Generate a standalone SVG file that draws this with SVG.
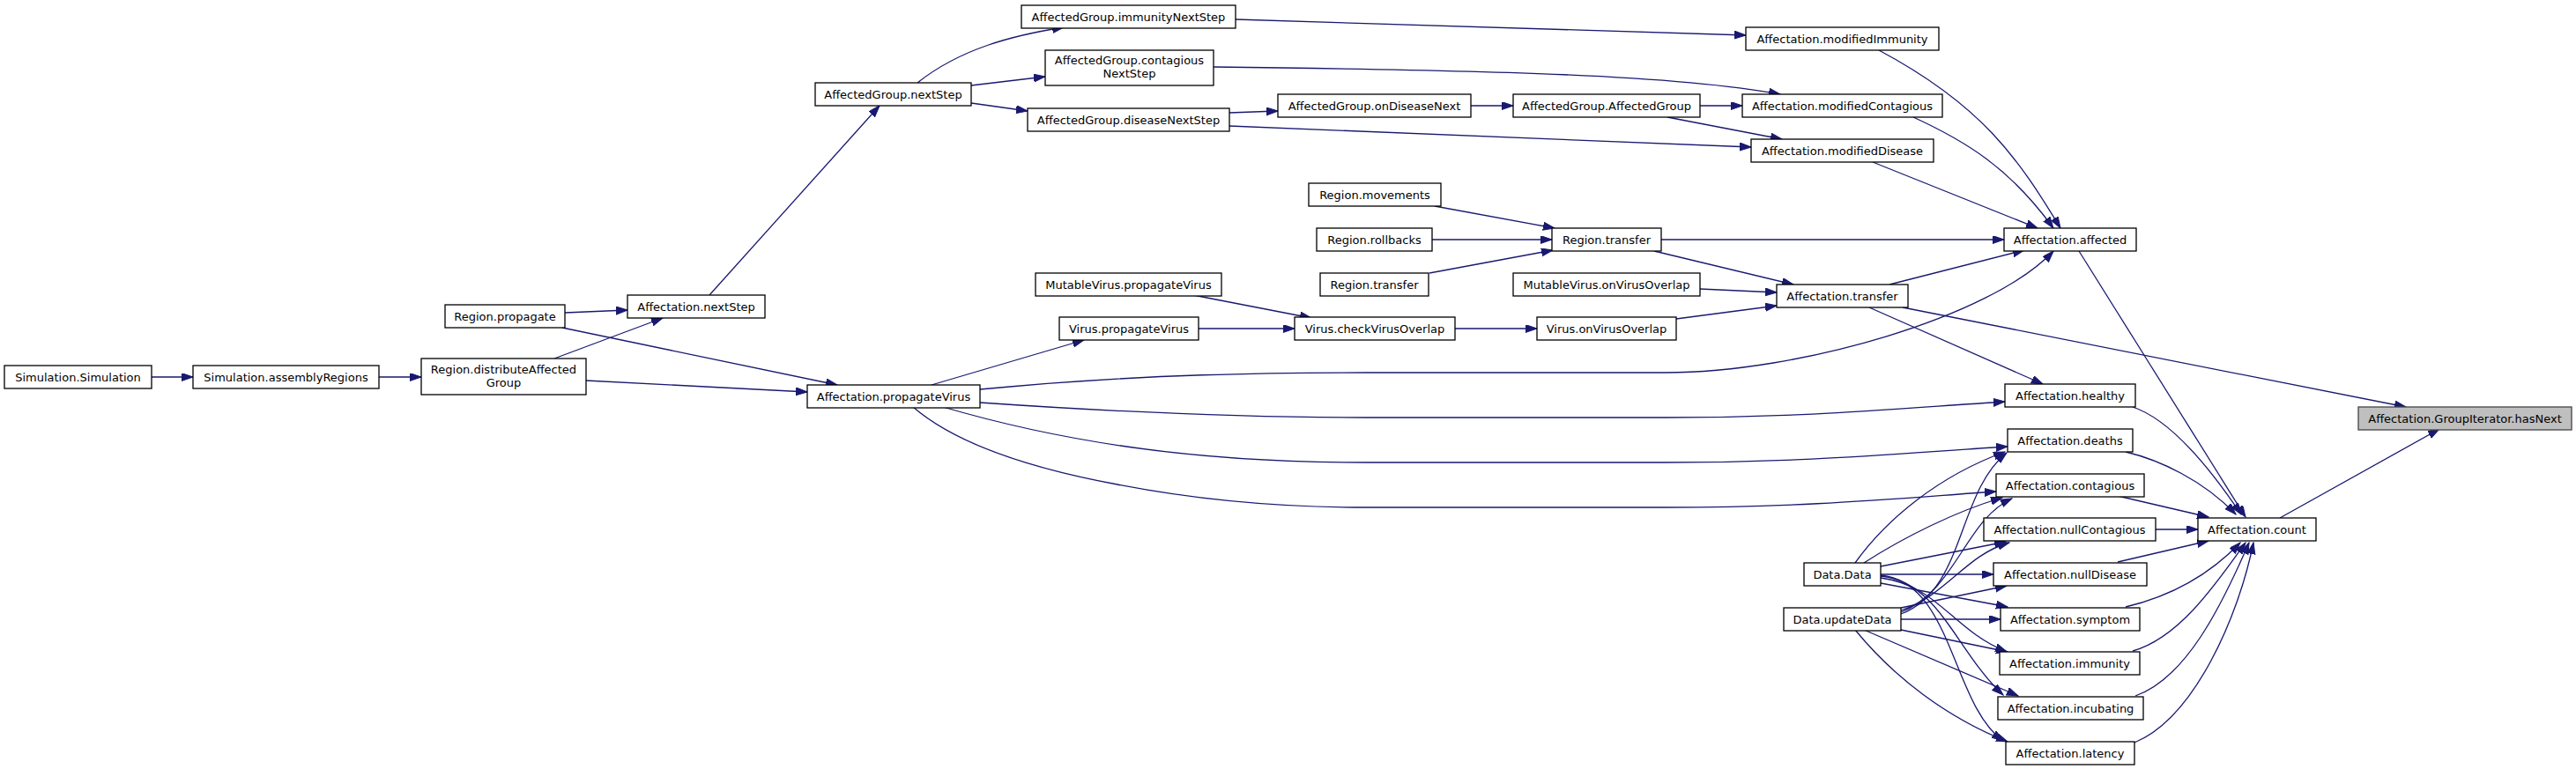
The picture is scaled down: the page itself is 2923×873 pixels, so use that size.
<svg xmlns="http://www.w3.org/2000/svg" width="2923" height="873" viewBox="0 0 2923 873">
<defs>
<marker id="ah" markerUnits="userSpaceOnUse" markerWidth="14" markerHeight="10" refX="13" refY="4.5" orient="auto">
<path d="M0,0 L13,4.5 L0,9 z" fill="#191970" stroke="#191970" stroke-width="1"/>
</marker>
</defs>
<style>
.n rect{fill:#ffffff;stroke:#000000;stroke-width:1.3}
.n.root rect{fill:#bfbfbf;stroke:#444444}
.n text{font-family:"DejaVu Sans",sans-serif;font-size:13px;fill:#000000;text-anchor:middle}
#edges path{fill:none;stroke:#191970;stroke-width:1.3;marker-end:url(#ah)}
</style>
<rect width="2923" height="873" fill="#ffffff"/>
<g id="edges">
<path d="M172,428 L219,428"/>
<path d="M430,428 L478,428"/>
<path d="M629,407 L752,361"/>
<path d="M665,432 L916,445"/>
<path d="M641,355 L712,352"/>
<path d="M638,372 L950,437"/>
<path d="M805,335 L998,120"/>
<path d="M1041,94 C1090,55 1150,40 1207,31"/>
<path d="M1102,97 L1186,87"/>
<path d="M1102,117 L1166,126"/>
<path d="M1402,22 L1981,40"/>
<path d="M1377,76 C1700,80 1900,85 2020,107"/>
<path d="M1395,128 L1450,126"/>
<path d="M1395,143 L1987,167"/>
<path d="M1669,120 L1717,120"/>
<path d="M1929,120 L1977,120"/>
<path d="M1892,133 L2022,158"/>
<path d="M2132,57 C2250,120 2290,180 2338,259"/>
<path d="M2171,133 C2230,160 2280,190 2330,259"/>
<path d="M2125,184 L2312,259"/>
<path d="M1885,272 L2274,272"/>
<path d="M1628,234 L1764,259"/>
<path d="M1625,272 L1761,272"/>
<path d="M1622,310 L1762,284"/>
<path d="M1877,285 L2035,323"/>
<path d="M2144,323 L2297,284"/>
<path d="M1929,328 L2016,332"/>
<path d="M1902,362 L2016,347"/>
<path d="M2159,349 L2730,462"/>
<path d="M2121,349 L2318,436"/>
<path d="M2359,285 L2548,587"/>
<path d="M1354,335 L1488,361"/>
<path d="M1360,373 L1469,373"/>
<path d="M1651,373 L1744,373"/>
<path d="M1057,437 L1230,386"/>
<path d="M1112,442 C1300,424 1450,423 1550,423 L1890,423 C2040,423 2260,360 2330,285"/>
<path d="M1112,457 C1300,470 1450,474 1550,474 L1890,474 C2050,474 2150,464 2275,456"/>
<path d="M1070,462 C1200,500 1350,525 1550,525 L1890,525 C2050,525 2150,515 2278,507"/>
<path d="M1036,462 C1080,500 1160,530 1268,550 C1350,566 1450,576 1550,576 L1890,576 C2050,576 2150,566 2265,558"/>
<path d="M2420,462 C2450,472 2490,505 2543,584"/>
<path d="M2412,513 C2450,522 2500,545 2537,584"/>
<path d="M2403,563 L2506,587"/>
<path d="M2446,601 L2494,601"/>
<path d="M2403,638 L2506,614"/>
<path d="M2412,689 C2450,680 2500,660 2542,616"/>
<path d="M2420,739 C2470,725 2510,670 2548,616"/>
<path d="M2423,790 C2480,770 2520,690 2552,616"/>
<path d="M2422,843 C2490,815 2540,700 2557,616"/>
<path d="M2587,588 L2768,487"/>
<path d="M2105,639 C2140,590 2200,540 2275,513"/>
<path d="M2115,639 C2160,610 2220,580 2272,565"/>
<path d="M2134,643 L2276,615"/>
<path d="M2134,652 L2262,652"/>
<path d="M2134,662 L2278,689"/>
<path d="M2134,656 C2200,665 2215,715 2277,740"/>
<path d="M2134,654 C2200,660 2220,740 2273,789"/>
<path d="M2134,653 C2215,660 2215,800 2273,841"/>
<path d="M2157,697 C2230,670 2220,560 2277,514"/>
<path d="M2157,695 C2220,670 2230,590 2283,566"/>
<path d="M2157,693 C2210,675 2230,630 2280,616"/>
<path d="M2157,690 L2277,665"/>
<path d="M2157,703 L2270,703"/>
<path d="M2157,715 L2278,740"/>
<path d="M2115,715 L2290,790"/>
<path d="M2105,715 C2150,770 2210,815 2278,842"/>
</g>
<g id="n1" class="n"><rect x="5" y="415" width="167" height="26"/><text x="88.5" y="432.5">Simulation.Simulation</text></g>
<g id="n2" class="n"><rect x="219" y="415" width="211" height="26"/><text x="324.5" y="432.5">Simulation.assemblyRegions</text></g>
<g id="n3" class="n"><rect x="478" y="407" width="187" height="41"/><text x="571.5" y="424">Region.distributeAffected</text><text x="571.5" y="439">Group</text></g>
<g id="n4" class="n"><rect x="505" y="346" width="136" height="26"/><text x="573" y="363.5">Region.propagate</text></g>
<g id="n5" class="n"><rect x="712" y="335" width="156" height="26"/><text x="790" y="352.5">Affectation.nextStep</text></g>
<g id="n6" class="n"><rect x="925" y="94" width="177" height="26"/><text x="1013.5" y="111.5">AffectedGroup.nextStep</text></g>
<g id="n7" class="n"><rect x="916" y="437" width="196" height="26"/><text x="1014" y="454.5">Affectation.propagateVirus</text></g>
<g id="n8" class="n"><rect x="1159" y="6" width="243" height="26"/><text x="1280.5" y="23.5">AffectedGroup.immunityNextStep</text></g>
<g id="n9" class="n"><rect x="1186" y="57" width="191" height="40"/><text x="1281.5" y="73">AffectedGroup.contagious</text><text x="1281.5" y="88">NextStep</text></g>
<g id="n10" class="n"><rect x="1166" y="123" width="229" height="26"/><text x="1280.5" y="140.5">AffectedGroup.diseaseNextStep</text></g>
<g id="n11" class="n"><rect x="1450" y="107" width="219" height="26"/><text x="1559.5" y="124.5">AffectedGroup.onDiseaseNext</text></g>
<g id="n12" class="n"><rect x="1717" y="107" width="212" height="26"/><text x="1823" y="124.5">AffectedGroup.AffectedGroup</text></g>
<g id="n13" class="n"><rect x="1981" y="31" width="219" height="26"/><text x="2090.5" y="48.5">Affectation.modifiedImmunity</text></g>
<g id="n14" class="n"><rect x="1977" y="107" width="227" height="26"/><text x="2090.5" y="124.5">Affectation.modifiedContagious</text></g>
<g id="n15" class="n"><rect x="1987" y="158" width="207" height="26"/><text x="2090.5" y="175.5">Affectation.modifiedDisease</text></g>
<g id="n16" class="n"><rect x="1485" y="208" width="150" height="26"/><text x="1560" y="225.5">Region.movements</text></g>
<g id="n17" class="n"><rect x="1494" y="259" width="131" height="26"/><text x="1559.5" y="276.5">Region.rollbacks</text></g>
<g id="n18" class="n"><rect x="1498" y="310" width="123" height="26"/><text x="1559.5" y="327.5">Region.transfer</text></g>
<g id="n19" class="n"><rect x="1761" y="259" width="124" height="26"/><text x="1823" y="276.5">Region.transfer</text></g>
<g id="n20" class="n"><rect x="1175" y="310" width="211" height="26"/><text x="1280.5" y="327.5">MutableVirus.propagateVirus</text></g>
<g id="n21" class="n"><rect x="1717" y="310" width="212" height="26"/><text x="1823" y="327.5">MutableVirus.onVirusOverlap</text></g>
<g id="n22" class="n"><rect x="1202" y="360" width="158" height="26"/><text x="1281" y="377.5">Virus.propagateVirus</text></g>
<g id="n23" class="n"><rect x="1469" y="360" width="182" height="26"/><text x="1560" y="377.5">Virus.checkVirusOverlap</text></g>
<g id="n24" class="n"><rect x="1744" y="360" width="158" height="26"/><text x="1823" y="377.5">Virus.onVirusOverlap</text></g>
<g id="n25" class="n"><rect x="2274" y="259" width="150" height="26"/><text x="2349" y="276.5">Affectation.affected</text></g>
<g id="n26" class="n"><rect x="2016" y="323" width="149" height="26"/><text x="2090.5" y="340.5">Affectation.transfer</text></g>
<g id="n27" class="n"><rect x="2275" y="436" width="148" height="26"/><text x="2349" y="453.5">Affectation.healthy</text></g>
<g id="n28" class="n root"><rect x="2676" y="462" width="242" height="26"/><text x="2797" y="479.5">Affectation.GroupIterator.hasNext</text></g>
<g id="n29" class="n"><rect x="2278" y="487" width="142" height="26"/><text x="2349" y="504.5">Affectation.deaths</text></g>
<g id="n30" class="n"><rect x="2265" y="538" width="168" height="26"/><text x="2349" y="555.5">Affectation.contagious</text></g>
<g id="n31" class="n"><rect x="2251" y="588" width="195" height="26"/><text x="2348.5" y="605.5">Affectation.nullContagious</text></g>
<g id="n32" class="n"><rect x="2494" y="588" width="134" height="26"/><text x="2561" y="605.5">Affectation.count</text></g>
<g id="n33" class="n"><rect x="2262" y="639" width="174" height="26"/><text x="2349" y="656.5">Affectation.nullDisease</text></g>
<g id="n34" class="n"><rect x="2270" y="690" width="158" height="26"/><text x="2349" y="707.5">Affectation.symptom</text></g>
<g id="n35" class="n"><rect x="2269" y="740" width="159" height="26"/><text x="2348.5" y="757.5">Affectation.immunity</text></g>
<g id="n36" class="n"><rect x="2267" y="791" width="165" height="26"/><text x="2349.5" y="808.5">Affectation.incubating</text></g>
<g id="n37" class="n"><rect x="2276" y="842" width="146" height="26"/><text x="2349" y="859.5">Affectation.latency</text></g>
<g id="n38" class="n"><rect x="2047" y="639" width="87" height="26"/><text x="2090.5" y="656.5">Data.Data</text></g>
<g id="n39" class="n"><rect x="2024" y="690" width="133" height="26"/><text x="2090.5" y="707.5">Data.updateData</text></g>
</svg>
